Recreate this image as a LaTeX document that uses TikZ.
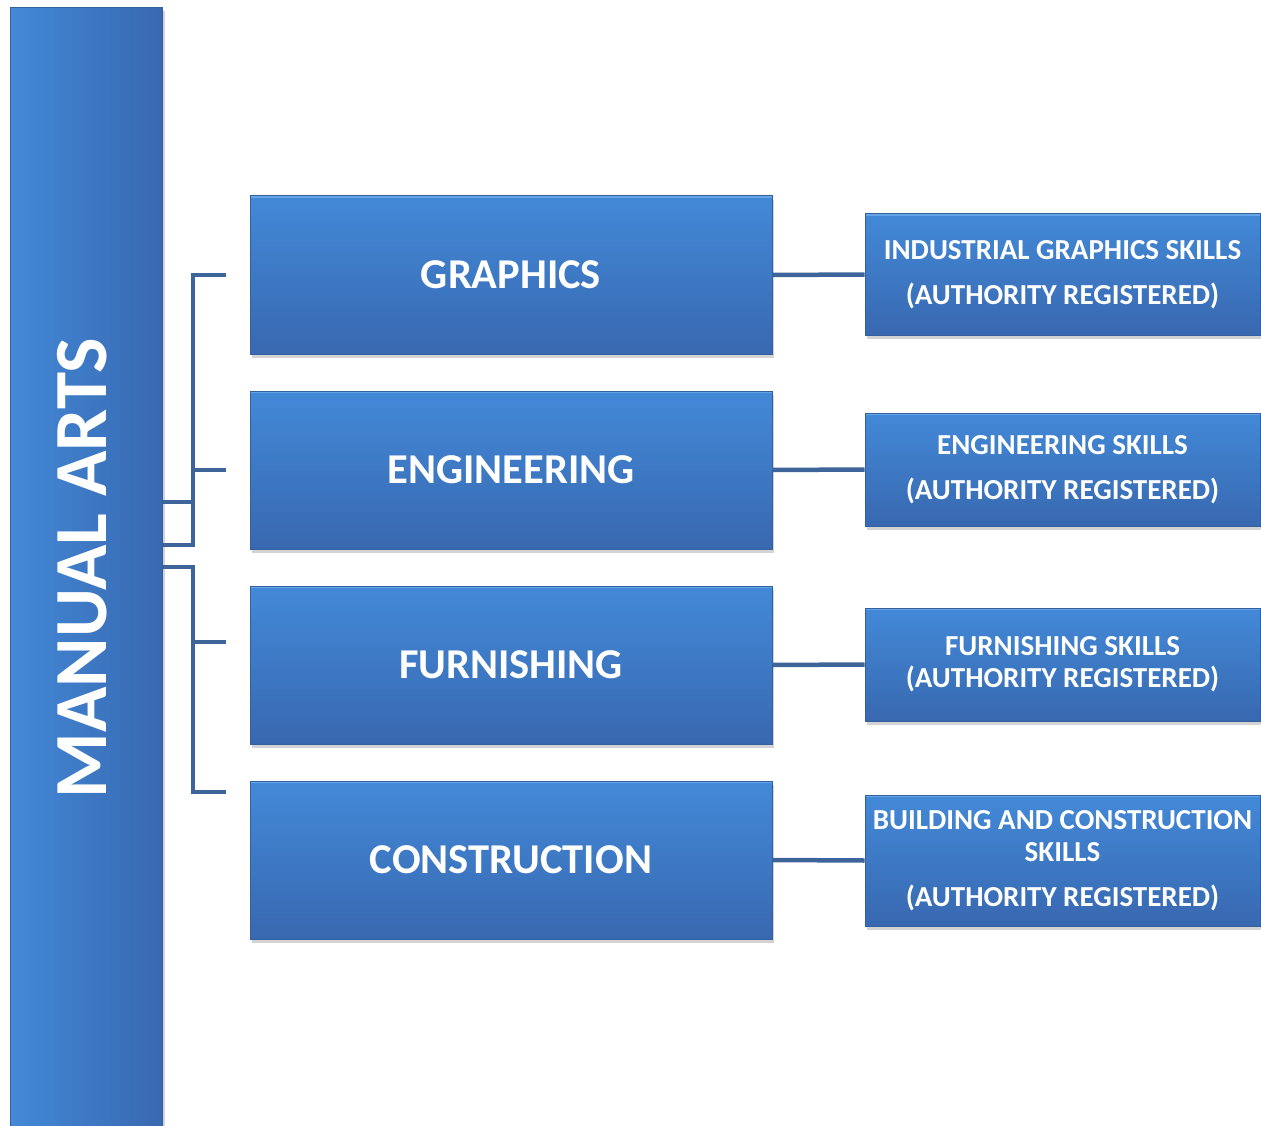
\documentclass[tikz,border=0pt]{standalone}
\usepackage{fontspec}
\setmainfont{Carlito}
\usetikzlibrary{calc,shadows}
\definecolor{boxtop}{RGB}{67,137,216}
\definecolor{boxbot}{RGB}{56,104,176}
\definecolor{boxhi}{RGB}{100,165,232}
\definecolor{boxedge}{RGB}{52,96,160}
\definecolor{linkcol}{RGB}{62,101,153}
\tikzset{
  bevel/.style={path picture={\draw[boxhi, line width=4pt]
      (path picture bounding box.north west) -- (path picture bounding box.north east);}},
  midbox/.style={draw=boxedge, line width=1pt, top color=boxtop, bottom color=boxbot, bevel,
    drop shadow={opacity=0.35, shadow xshift=2pt, shadow yshift=-4pt},
    minimum width=522pt, minimum height=158pt, inner sep=0pt,
    text=white, font=\bfseries\fontsize{42.5}{50}\selectfont},
  skillbox/.style={draw=boxedge, line width=1pt, top color=boxtop, bottom color=boxbot, bevel,
    drop shadow={opacity=0.35, shadow xshift=2pt, shadow yshift=-4pt},
    minimum width=395pt, inner sep=0pt, align=center,
    text=white, font=\bfseries\fontsize{29}{32}\selectfont},
  link/.style={draw=linkcol, line width=4.5pt}
}
\begin{document}
\begin{tikzpicture}[x=1pt,y=-1pt]
			\useasboundingbox (0,0) rectangle (1261,1126);
			
			%%%%% LEFT BAR %%%%%
			\node[draw=boxedge, line width=1pt, left color=boxtop, right color=boxbot,
			  drop shadow={opacity=0.35, shadow xshift=3pt, shadow yshift=-3pt},
			  minimum width=152pt, minimum height=1130pt, inner sep=0pt] (bar) at (86, 573) {};
			\node[rotate=90, text=white, font=\bfseries\fontsize{75}{80}\selectfont] (bartext) at (82, 568) {MANUAL ARTS};
			
			%%%%% MIDDLE BOXES %%%%%
			\node[midbox] (graphics) at (511, 275) {GRAPHICS};
			\node[midbox] (engineering) at (511, 470) {ENGINEERING};
			\node[midbox] (furnishing) at (511, 665) {FURNISHING};
			\node[midbox] (construction) at (511, 860) {CONSTRUCTION};
			
			%%%%% SKILL BOXES %%%%%
			\node[skillbox, minimum height=121pt] (gskill) at (1062.5, 274.5)
			  {INDUSTRIAL GRAPHICS SKILLS\\[13pt](AUTHORITY REGISTERED)};
			\node[skillbox, minimum height=113pt] (eskill) at (1062.5, 469.5)
			  {ENGINEERING SKILLS\\[13pt](AUTHORITY REGISTERED)};
			\node[skillbox, minimum height=113pt] (fskill) at (1062.5, 664.5)
			  {FURNISHING SKILLS\\(AUTHORITY REGISTERED)};
			\node[skillbox, minimum height=131pt] (cskill) at (1062.5, 860.5)
			  {BUILDING AND CONSTRUCTION\\SKILLS\\[13pt](AUTHORITY REGISTERED)};
			
			%%%%% BRACKETS %%%%%
			\coordinate (gtick) at (226, 275);
			\coordinate (etick) at (226, 470);
			\coordinate (ftick) at (226, 642);
			\coordinate (ctick) at (226, 792);
			
			\draw[link] (bar.east |- 0,545) -| (193,275) -- (gtick);
			\draw[link] (bar.east |- 0,502) -- (193,502);
			\draw[link] (193,470) -- (etick);
			\draw[link] (bar.east |- 0,567) -| (193,792) -- (ctick);
			\draw[link] (193,642) -- (ftick);
			
			%%%%% LINKS %%%%%
			\draw[link] (graphics.east) -- (gskill.west);
			\draw[link] (engineering.east) -- (eskill.west);
			\draw[link] (furnishing.east) -- (fskill.west);
			\draw[link] (construction.east) -- (cskill.west);
			
		\end{tikzpicture}
\end{document}
